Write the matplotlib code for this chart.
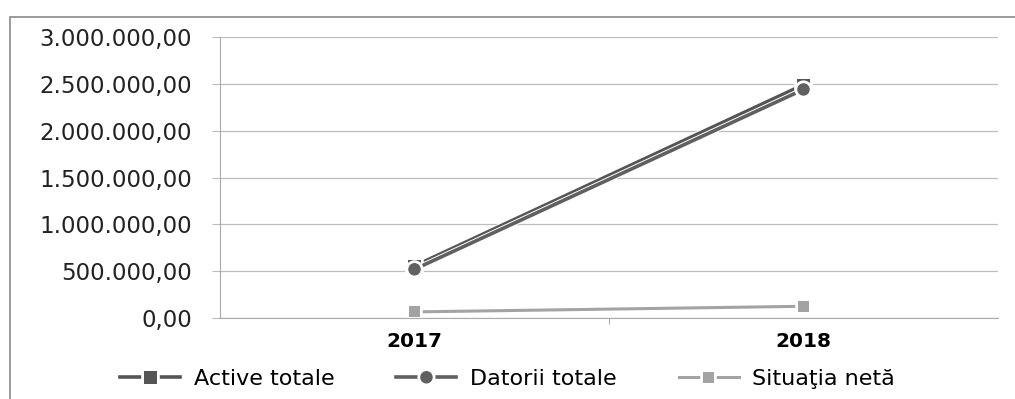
import matplotlib
matplotlib.use("Agg")
import matplotlib.pyplot as plt
import matplotlib.patheffects as pe
from matplotlib.patches import Rectangle
from matplotlib.ticker import FuncFormatter

years = ["2017", "2018"]
active_totale = [555000, 2490000]
datorii_totale = [520000, 2440000]
situatia_neta = [65000, 125000]


def ro_fmt(v, pos):
    s = "{:,.2f}".format(v)
    return s.replace(",", "X").replace(".", ",").replace("X", ".")


fig = plt.figure(figsize=(10.15, 3.99), dpi=100)
fig.patches.append(Rectangle((10 / 1015, -0.1), 1.1, 1 - 17 / 399 + 0.1,
                             transform=fig.transFigure, fill=False,
                             edgecolor="#8a8a8a", linewidth=1.2))
ax = fig.add_axes([220 / 1015, 1 - 318 / 399, 778 / 1015, 281 / 399])

x = [0, 1]
stroke = [pe.Stroke(linewidth=4.0, foreground="white"), pe.Normal()]
ax.plot(x, situatia_neta, color="#a3a3a3", linewidth=2.2, marker="s",
        markersize=8, markeredgewidth=0, label="Situaţia netă",
        path_effects=stroke)
ax.plot(x, active_totale, color="#555555", linewidth=2.6, marker="s",
        markersize=9, markeredgewidth=0, label="Active totale",
        path_effects=stroke)
ax.plot(x, datorii_totale, color="#606060", linewidth=2.6, marker="o",
        markersize=9, markeredgewidth=0, label="Datorii totale",
        path_effects=stroke)

ax.set_xlim(-0.5, 1.5)
ax.set_ylim(0, 3000000)
ax.set_yticks(range(0, 3000001, 500000))
ax.yaxis.set_major_formatter(FuncFormatter(ro_fmt))
ax.set_xticks(x)
ax.set_xticklabels(years, fontweight="bold", fontsize=14.5)
ax.set_xticks([0.5], minor=True)
ax.tick_params(axis="x", which="major", length=0, pad=10)
ax.tick_params(axis="x", which="minor", length=4, color="#999999")
ax.tick_params(axis="y", length=6, color="#bbbbbb", labelsize=16.5,
               pad=14, labelcolor="#222222")
ax.grid(axis="y", color="#bdbdbd", linewidth=0.9)
ax.set_axisbelow(True)
for side in ["top", "right"]:
    ax.spines[side].set_visible(False)
ax.spines["left"].set_color("#aaaaaa")
ax.spines["bottom"].set_color("#aaaaaa")

h, l = ax.get_legend_handles_labels()
order = [1, 2, 0]
fig.legend([h[i] for i in order], [l[i] for i in order], loc="center",
           bbox_to_anchor=(0.5, 0.05), ncol=3, frameon=False,
           fontsize=16, handlelength=2.7, columnspacing=2.8,
           handletextpad=0.6)

fig.savefig("out.png", dpi=100)
